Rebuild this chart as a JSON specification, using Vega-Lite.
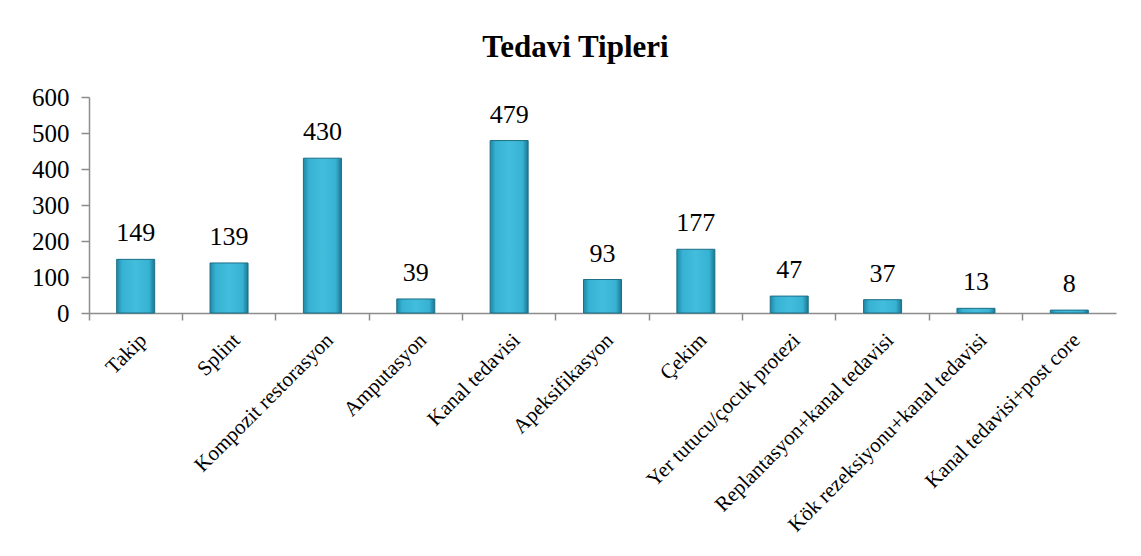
{
  "$schema": "https://vega.github.io/schema/vega-lite/v6.json",
  "width": 1027,
  "height": 216,
  "autosize": {"type": "none"},
  "padding": {"left": 89, "top": 97, "right": 25, "bottom": 243},
  "background": "white",
  "title": {
    "text": "Tedavi Tipleri",
    "font": "Liberation Serif",
    "fontSize": 31,
    "fontWeight": "bold",
    "color": "black",
    "anchor": "middle",
    "dx": -27,
    "offset": 21
  },
  "data": {
    "values": [
      {"tip": "Takip", "n": 149},
      {"tip": "Splint", "n": 139},
      {"tip": "Kompozit restorasyon", "n": 430},
      {"tip": "Amputasyon", "n": 39},
      {"tip": "Kanal tedavisi", "n": 479},
      {"tip": "Apeksifikasyon", "n": 93},
      {"tip": "Çekim", "n": 177},
      {"tip": "Yer tutucu/çocuk protezi", "n": 47},
      {"tip": "Replantasyon+kanal tedavisi", "n": 37},
      {"tip": "Kök rezeksiyonu+kanal tedavisi", "n": 13},
      {"tip": "Kanal tedavisi+post core", "n": 8}
    ]
  },
  "encoding": {
    "x": {
      "field": "tip",
      "type": "nominal",
      "sort": null,
      "scale": {"paddingInner": 0, "paddingOuter": 0},
      "axis": {
        "title": null,
        "labelAngle": -45,
        "labelAlign": "right",
        "labelBaseline": "top",
        "labelFont": "Liberation Serif",
        "labelFontSize": 21,
        "labelColor": "black",
        "labelPadding": 9,
        "bandPosition": 0,
        "domainColor": "#8c8c8c",
        "domainWidth": 1.5,
        "tickColor": "#8c8c8c",
        "tickSize": 7,
        "tickWidth": 1.5,
        "labelOverlap": false,
        "labelLimit": 400
      }
    },
    "y": {
      "field": "n",
      "type": "quantitative",
      "scale": {"domain": [0, 600]},
      "axis": {
        "title": null,
        "values": [0, 100, 200, 300, 400, 500, 600],
        "grid": false,
        "labelFont": "Liberation Serif",
        "labelFontSize": 25,
        "labelColor": "black",
        "labelPadding": 12,
        "domainColor": "#8c8c8c",
        "domainWidth": 1.5,
        "tickColor": "#8c8c8c",
        "tickSize": 8,
        "tickWidth": 1.5
      }
    }
  },
  "layer": [
    {
      "mark": {
        "type": "bar",
        "size": 38,
        "stroke": "#1b6f86",
        "strokeWidth": 1,
        "fill": {
          "gradient": "linear",
          "x1": 0, "x2": 1, "y1": 0, "y2": 0,
          "stops": [
            {"offset": 0, "color": "#1f88a6"},
            {"offset": 0.15, "color": "#38b2d3"},
            {"offset": 0.5, "color": "#43bddc"},
            {"offset": 0.85, "color": "#38b2d3"},
            {"offset": 1, "color": "#1a7793"}
          ]
        }
      }
    },
    {
      "mark": {
        "type": "text",
        "baseline": "bottom",
        "dy": -13,
        "font": "Liberation Serif",
        "fontSize": 26,
        "color": "black"
      },
      "encoding": {"text": {"field": "n", "type": "quantitative"}}
    }
  ],
  "config": {"view": {"stroke": null}, "font": "Liberation Serif"}
}
